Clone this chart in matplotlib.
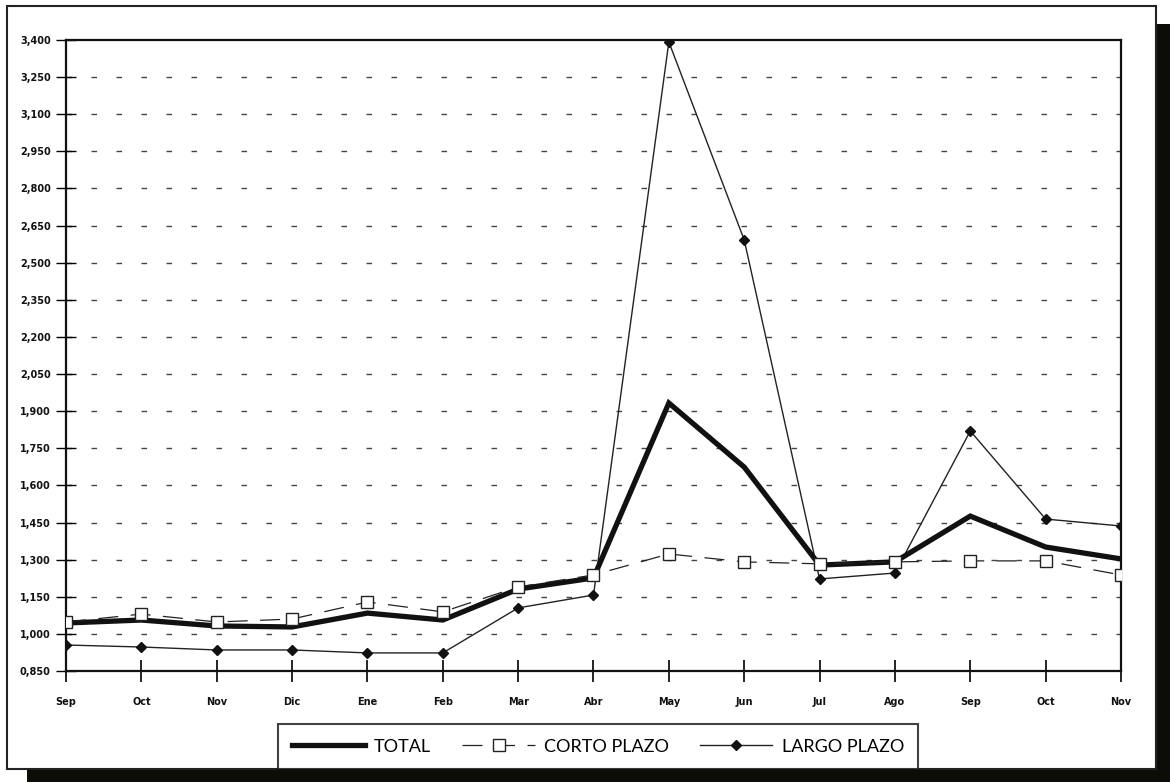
import matplotlib
matplotlib.use("Agg")
import matplotlib.pyplot as plt
import matplotlib.patches as patches
import numpy as np

months = ["Sep", "Oct", "Nov", "Dic", "Ene", "Feb", "Mar", "Abr",
          "May", "Jun", "Jul", "Ago", "Sep", "Oct", "Nov"]

total = [1.044, 1.056, 1.032, 1.028, 1.084, 1.056, 1.181, 1.226,
         1.933, 1.674, 1.278, 1.291, 1.476, 1.351, 1.303]
corto_plazo = [1.048, 1.080, 1.048, 1.060, 1.129, 1.089, 1.190, 1.238,
               1.323, 1.291, 1.283, 1.291, 1.295, 1.295, 1.238]
largo_plazo = [0.955, 0.947, 0.935, 0.935, 0.923, 0.923, 1.105, 1.157,
               3.392, 2.592, 1.222, 1.246, 1.820, 1.464, 1.436]

y_ticks = np.round(np.arange(0.85, 3.40001, 0.15), 3)

W, H = 1170, 782
fig = plt.figure(figsize=(W / 100, H / 100), dpi=100)
fig.patch.set_facecolor("white")

# shadow + white panel of the scanned page
fig.patches.append(patches.Rectangle((27 / W, 0), 1 - 27 / W, 1 - 24 / H,
                                     transform=fig.transFigure,
                                     facecolor="#0d0d08", edgecolor="none", zorder=0))
fig.patches.append(patches.Rectangle((7 / W, 1 - 769 / H), (1156 - 7) / W, (769 - 6) / H,
                                     transform=fig.transFigure,
                                     facecolor="white", edgecolor="#222222",
                                     linewidth=1.5, zorder=1))

ax = fig.add_axes((66 / W, 1 - 671 / H, (1121 - 66) / W, (671 - 40) / H))
ax.set_zorder(2)
x = np.arange(len(months))

ax.plot(x, total, color="#111111", linewidth=3.8, solid_joinstyle="miter",
        label="TOTAL", zorder=4)
ax.plot(x, corto_plazo, color="#222222", linewidth=0.9, dashes=(16, 10),
        marker="s", markersize=8, markerfacecolor="white",
        markeredgecolor="#222222", markeredgewidth=1.0,
        label="CORTO PLAZO", zorder=5)
ax.plot(x, largo_plazo, color="#222222", linewidth=1.0,
        marker="D", markersize=5, markerfacecolor="#111111",
        markeredgecolor="#111111", label="LARGO PLAZO", zorder=3)

ax.set_xlim(0, len(months) - 1)
ax.set_ylim(0.85, 3.4)
ax.set_xticks(x)
ax.set_xticklabels(months)
ax.set_yticks(y_ticks)
ax.set_yticklabels([f"{v:.3f}".replace(".", ",") for v in y_ticks])

for v in y_ticks[1:-1]:
    ax.axhline(v, color="#444444", linewidth=1.0, dashes=(4, 14), zorder=1)

for s in ax.spines.values():
    s.set_linewidth(1.6)
    s.set_color("#111111")

ax.tick_params(axis="x", direction="inout", length=16, width=1.2,
               labelsize=7, pad=11)
ax.tick_params(axis="y", direction="inout", length=14, width=1.0,
               labelsize=7, pad=4)
for lab in ax.get_xticklabels() + ax.get_yticklabels():
    lab.set_fontweight("bold")
    lab.set_color("#111111")

leg = fig.legend(loc="lower left", bbox_to_anchor=(278 / W, 1 - 769 / H),
                 ncol=3, frameon=True, fancybox=False,
                 handlelength=4.0, handletextpad=0.5, columnspacing=1.75,
                 borderaxespad=0, borderpad=0.8,
                 prop={"family": "Lato", "size": 13})
leg.get_frame().set_edgecolor("#111111")
leg.get_frame().set_linewidth(1.5)
leg.set_zorder(3)

fig.savefig("out.png", dpi=100)
